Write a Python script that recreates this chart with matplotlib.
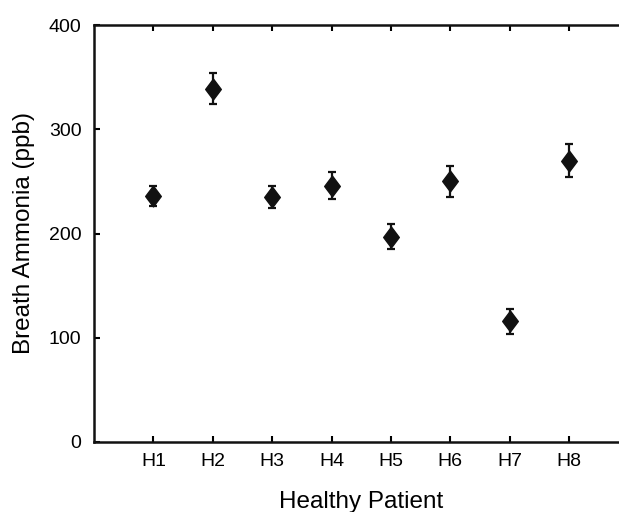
import matplotlib
matplotlib.use("Agg")
import matplotlib.pyplot as plt
from matplotlib.path import Path

plt.rcParams['font.family'] = ['Liberation Sans', 'DejaVu Sans']

patients = ["H1", "H2", "H3", "H4", "H5", "H6", "H7", "H8"]
ammonia = [236, 339, 235, 246, 197, 250, 116, 270]
errors = [10, 15, 11, 13, 12, 15, 12, 16]
y_ticks = [0, 100, 200, 300, 400]

fig = plt.figure(figsize=(6.19, 5.12), dpi=100)
ax = fig.add_axes([94/619, 70/512, 534.5/619, 417/512])

diamond = Path([(0, 1), (0.75, 0), (0, -1), (-0.75, 0), (0, 1)],
               [Path.MOVETO, Path.LINETO, Path.LINETO, Path.LINETO, Path.CLOSEPOLY])

xs = list(range(1, len(patients) + 1))
ax.errorbar(xs, ammonia, yerr=errors, fmt='none', ecolor='#111111',
            elinewidth=1.6, capsize=3, capthick=1.6, zorder=2)
ax.plot(xs, ammonia, linestyle='none', marker=diamond, markersize=15,
        color='#111111', zorder=3)

ax.set_xlim(0, 9)
ax.set_ylim(0, 400)
ax.set_xticks(xs)
ax.set_xticklabels(patients)
ax.set_yticks(y_ticks)
ax.tick_params(axis='both', direction='in', width=1.5, length=4, labelsize=14,
               top=True, right=False)
ax.tick_params(axis='x', pad=8)
ax.tick_params(axis='y', pad=9)
ax.spines['right'].set_visible(False)
for s in ax.spines.values():
    s.set_linewidth(1.8)
    s.set_color('#111111')

ax.set_xlabel("Healthy Patient", fontsize=17.5, labelpad=15)
ax.set_ylabel("Breath Ammonia (ppb)", fontsize=17.5, labelpad=10)

fig.savefig("out.png", dpi=100)
